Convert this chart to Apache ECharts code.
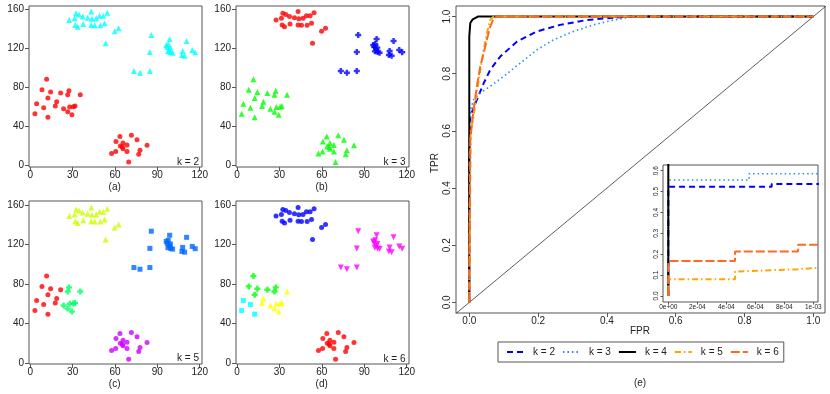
<!DOCTYPE html>
<html>
<head>
<meta charset="utf-8">
<script src="https://cdn.jsdelivr.net/npm/echarts@6/dist/echarts.min.js"></script>
<style>
  html, body { margin: 0; padding: 0; background: #fff; }
  #chart { width: 830px; height: 394px; }
</style>
</head>
<body>
<div id="chart"></div>
<script>
const FONT = 'Liberation Sans, Arial, Helvetica, sans-serif'

// k-means panels: the same points in every panel (left, bottom, top, right groups)
const ptX = [
  3.3, 4.5, 8.3, 9.5, 11.6, 12.5, 12.5, 14.4, 17.7, 18.7, 21.5, 23.6, 26.5, 26.5, 27.4, 27.9, 29.5, 30.5, 31.7, 35.4,
  57.6, 60.5, 60.7, 63.5, 63.8, 65.2, 65.7, 65.7, 68.5, 68.5, 69.7, 71.6, 75.6, 76.8, 77.7, 82.7,
  27.6, 31.4, 32.4, 34.5, 31.9, 33.6, 37.1, 37.5, 40.6, 43.2, 43.7, 43.2, 45.6, 46.7, 49.1, 49.6, 51.7, 52.7, 54.5, 59.8, 62.6, 53.4,
  85.7, 98.7, 97.7, 96.3, 97.0, 99.2, 98.4, 97.5, 99.4, 100.8, 84.7, 107.9, 107.4, 109.3, 110.7, 114.7, 116.8, 73.4, 77.7, 84.7
]
const ptY = [
  53.1, 63.3, 77.6, 59.2, 88.2, 69.1, 49.4, 75.2, 60.9, 65.3, 74.2, 58.2, 55.1, 72.5, 76.6, 59.9, 52.1, 60.3, 60.9, 72.5,
  12.6, 14.6, 24.8, 29.9, 20.1, 19.1, 23.1, 17.4, 21.1, 14.6, 3.7, 31.0, 26.6, 11.6, 15.7, 20.8,
  148.8, 150.5, 155.6, 154.5, 143.7, 141.9, 152.5, 144.7, 151.1, 157.6, 150.1, 143.7, 143.4, 150.5, 153.2, 143.4, 153.2, 145.4, 156.2, 137.2, 140.3, 125.0,
  133.5, 129.4, 124.3, 123.2, 121.2, 120.6, 118.8, 116.8, 116.1, 115.4, 116.1, 117.1, 113.0, 112.3, 127.3, 118.1, 115.8, 96.7, 95.0, 96.7
]
// cluster of each point for k = 2, 3, 5, 6
const lab2 = [
  1, 1, 1, 1, 1, 1, 1, 1, 1, 1, 1, 1, 1, 1, 1, 1, 1, 1, 1, 1,
  1, 1, 1, 1, 1, 1, 1, 1, 1, 1, 1, 1, 1, 1, 1, 1,
  2, 2, 2, 2, 2, 2, 2, 2, 2, 2, 2, 2, 2, 2, 2, 2, 2, 2, 2, 2, 2, 2,
  2, 2, 2, 2, 2, 2, 2, 2, 2, 2, 2, 2, 2, 2, 2, 2, 2, 2, 2, 2
]
const lab3 = [
  2, 2, 2, 2, 2, 2, 2, 2, 2, 2, 2, 2, 2, 2, 2, 2, 2, 2, 2, 2,
  2, 2, 2, 2, 2, 2, 2, 2, 2, 2, 2, 2, 2, 2, 2, 2,
  1, 1, 1, 1, 1, 1, 1, 1, 1, 1, 1, 1, 1, 1, 1, 1, 1, 1, 1, 1, 1, 1,
  3, 3, 3, 3, 3, 3, 3, 3, 3, 3, 3, 3, 3, 3, 3, 3, 3, 3, 3, 3
]
const lab5 = [
  1, 1, 1, 1, 1, 1, 1, 1, 1, 1, 1, 3, 3, 3, 3, 3, 3, 3, 3, 3,
  5, 5, 5, 5, 5, 5, 5, 5, 5, 5, 5, 5, 5, 5, 5, 5,
  2, 2, 2, 2, 2, 2, 2, 2, 2, 2, 2, 2, 2, 2, 2, 2, 2, 2, 2, 2, 2, 2,
  4, 4, 4, 4, 4, 4, 4, 4, 4, 4, 4, 4, 4, 4, 4, 4, 4, 4, 4, 4
]
const lab6 = [
  4, 4, 3, 4, 3, 3, 4, 3, 2, 2, 3, 2, 2, 3, 3, 2, 2, 2, 2, 2,
  1, 1, 1, 1, 1, 1, 1, 1, 1, 1, 1, 1, 1, 1, 1, 1,
  5, 5, 5, 5, 5, 5, 5, 5, 5, 5, 5, 5, 5, 5, 5, 5, 5, 5, 5, 5, 5, 5,
  6, 6, 6, 6, 6, 6, 6, 6, 6, 6, 6, 6, 6, 6, 6, 6, 6, 6, 6, 6
]
const scatterXTicks = [0, 30, 60, 90, 120]
const scatterYTicks = [0, 40, 80, 120, 160]

// ROC curves, [FPR, TPR]
const roc2 = [[0, 0], [0, 0.523], [0.000713, 0.523], [0.000713, 0.536], [0.0012, 0.536], [0.003, 0.651], [0.022, 0.709], [0.042, 0.767], [0.061, 0.814], [0.09, 0.86], [0.139, 0.913], [0.197, 0.948], [0.264, 0.971], [0.342, 0.988], [0.4, 0.994], [0.458, 1], [1, 1]]
const roc3 = [[0, 0], [0, 0.555], [0.000557, 0.555], [0.000557, 0.585], [0.0012, 0.585], [0.004, 0.674], [0.0125, 0.709], [0.032, 0.733], [0.061, 0.756], [0.1, 0.791], [0.148, 0.837], [0.197, 0.884], [0.245, 0.919], [0.303, 0.948], [0.361, 0.971], [0.419, 0.988], [0.468, 0.998], [0.52, 1], [1, 1]]
const roc4 = [[0, 0], [0, 0.93], [0.003, 0.978], [0.01, 0.99], [0.025, 1], [1, 1]]
const roc5 = [[0, 0], [0, 0.08], [0.00046, 0.08], [0.00046, 0.117], [0.00089, 0.128], [0.00089, 0.133], [0.0011, 0.138], [0.004, 0.6], [0.0125, 0.651], [0.022, 0.733], [0.032, 0.814], [0.042, 0.884], [0.051, 0.942], [0.061, 0.988], [0.07, 1], [1, 1]]
const roc6 = [[0, 0], [0, 0.167], [0.00046, 0.167], [0.00046, 0.213], [0.000895, 0.213], [0.000895, 0.245], [0.0011, 0.245], [0.003, 0.57], [0.0125, 0.675], [0.022, 0.756], [0.032, 0.826], [0.042, 0.872], [0.051, 0.919], [0.061, 0.965], [0.071, 0.994], [0.08, 1], [1, 1]]
const rocTicks = [0, 0.2, 0.4, 0.6, 0.8, 1]
const insetXTicks = [0, 0.0002, 0.0004, 0.0006, 0.0008, 0.001]
const insetYTicks = [0, 0.1, 0.2, 0.3, 0.4, 0.5, 0.6]

// rainbow(k) palettes
const pal2 = ['#FF0000', '#00FFFF']
const pal3 = ['#FF0000', '#00FF00', '#0000FF']
const pal5 = ['#FF0000', '#CCFF00', '#00FF66', '#0066FF', '#CC00FF']
const pal6 = ['#FF0000', '#FFFF00', '#00FF00', '#00FFFF', '#0000FF', '#FF00FF']

const plusPath = 'path://M3,0H7V3H10V7H7V10H3V7H0V3H3Z'
const symbols = ['circle', 'triangle', plusPath, 'rect', 'circle', 'triangle']
const symbolSizes = [5, 6, 6, 5, 5, 6]

const boxColor = '#555'
const labelColor = '#222'

function clusterSeries(gi, labels, pal) {
  return pal.map((col, c) => ({
    type: 'scatter',
    xAxisIndex: gi,
    yAxisIndex: gi,
    symbol: symbols[c],
    symbolSize: symbolSizes[c],
    symbolRotate: c === 5 ? 180 : 0,
    itemStyle: { color: col },
    silent: true,
    data: ptX.map((x, i) => [x, ptY[i], labels[i]]).filter(d => d[2] === c + 1).map(d => [d[0], d[1]])
  }))
}

function valueAxis(gi, min, max, ticks, opts) {
  return {
    gridIndex: gi,
    type: 'value',
    min: min,
    max: max,
    splitLine: { show: false },
    axisLine: { show: false, onZero: false },
    axisTick: { show: true, length: opts.tick, customValues: ticks, lineStyle: { color: boxColor } },
    axisLabel: {
      customValues: ticks,
      margin: opts.margin,
      rotate: opts.rotate || 0,
      fontSize: opts.size,
      color: labelColor,
      fontFamily: FONT,
      formatter: opts.fmt
    }
  }
}

const intFmt = v => String(Math.round(v))
const oneDec = v => v.toFixed(1)
const expFmt = v => v === 0 ? '0e+00' : v.toExponential(0).replace(/e-(\d)$/, 'e-0$1')

const scatterX = { tick: 4, margin: 3, size: 10, fmt: intFmt }
const scatterY = { tick: 4, margin: 5, size: 10, fmt: intFmt }

const grids = [
  { left: 29, top: 6, width: 173, height: 161 },
  { left: 236, top: 6, width: 173, height: 161 },
  { left: 29, top: 201, width: 173, height: 163 },
  { left: 236, top: 201, width: 173, height: 163 },
  { left: 456, top: 6, width: 369, height: 307 },
  { left: 663, top: 165, width: 155, height: 137, backgroundColor: '#fff' }
].map(g => Object.assign({ show: true, borderColor: boxColor, borderWidth: 1 }, g))

const xAxes = [
  valueAxis(0, -0.9, 121.6, scatterXTicks, scatterX),
  valueAxis(1, -0.7, 121.6, scatterXTicks, scatterX),
  valueAxis(2, -0.9, 121.6, scatterXTicks, scatterX),
  valueAxis(3, -0.7, 121.6, scatterXTicks, scatterX),
  valueAxis(4, -0.0386, 1.034, rocTicks, { tick: 4, margin: 3, size: 10, fmt: oneDec }),
  valueAxis(5, -0.0000366, 0.0010324, insetXTicks, { tick: 2.5, margin: 2, size: 6.5, fmt: expFmt })
]
const yAxes = [
  valueAxis(0, -1.3, 163.1, scatterYTicks, scatterY),
  valueAxis(1, -1.3, 163.1, scatterYTicks, scatterY),
  valueAxis(2, -1.0, 164.1, scatterYTicks, scatterY),
  valueAxis(3, -1.0, 164.1, scatterYTicks, scatterY),
  valueAxis(4, -0.037, 1.037, rocTicks, { tick: 4, margin: 4, size: 10, rotate: 90, fmt: oneDec }),
  valueAxis(5, -0.029, 0.627, insetYTicks, { tick: 2.5, margin: 3, size: 6.5, rotate: 90, fmt: oneDec })
]

const rocCurves = [
  { name: 'k = 2', data: roc2, color: '#0000FF', dash: [6, 4], width: 2 },
  { name: 'k = 3', data: roc3, color: '#1E90FF', dash: [1.5, 3], width: 1.6 },
  { name: 'k = 4', data: roc4, color: '#000000', dash: 'solid', width: 2 },
  { name: 'k = 5', data: roc5, color: '#FFA500', dash: [6, 3, 1.5, 3], width: 2 },
  { name: 'k = 6', data: roc6, color: '#FF6A20', dash: [9, 3], width: 2 }
]

function rocSeries(gi) {
  return rocCurves.map(c => ({
    type: 'line',
    name: c.name,
    xAxisIndex: gi,
    yAxisIndex: gi,
    showSymbol: false,
    symbol: 'none',
    clip: true,
    silent: true,
    itemStyle: { color: c.color },
    lineStyle: { color: c.color, type: c.dash, width: c.width },
    data: c.data
  }))
}

const series = [].concat(
  clusterSeries(0, lab2, pal2),
  clusterSeries(1, lab3, pal3),
  clusterSeries(2, lab5, pal5),
  clusterSeries(3, lab6, pal6),
  [{
    type: 'line', xAxisIndex: 4, yAxisIndex: 4, symbol: 'none', silent: true, clip: true,
    lineStyle: { color: '#333', width: 0.8 },
    data: [[-0.1, -0.1], [1.1, 1.1]]
  }],
  rocSeries(4),
  rocSeries(5)
)

function label(text, x, y, align, rot) {
  return {
    type: 'text', x: x, y: y, rotation: rot || 0,
    style: { text: text, fill: labelColor, font: '10px ' + FONT, align: align || 'center', verticalAlign: 'middle' }
  }
}

const chart = echarts.init(document.getElementById('chart'))
chart.setOption({
  animation: false,
  backgroundColor: '#fff',
  textStyle: { fontFamily: FONT },
  grid: grids,
  xAxis: xAxes,
  yAxis: yAxes,
  legend: {
    data: rocCurves.map(c => c.name),
    left: 498,
    top: 342,
    orient: 'horizontal',
    itemWidth: 17,
    itemHeight: 12,
    itemGap: 7,
    padding: [5, 5, 5, 8],
    borderColor: boxColor,
    borderWidth: 1,
    selectedMode: false,
    itemStyle: { opacity: 0 },
    textStyle: { fontSize: 10, color: labelColor, fontFamily: FONT, padding: [0, 0, 0, 4] }
  },
  graphic: [
    label('k = 2', 199, 162.5, 'right'),
    label('k = 3', 405.5, 162.5, 'right'),
    label('k = 5', 199, 358.5, 'right'),
    label('k = 6', 405.5, 359, 'right'),
    label('(a)', 114.7, 187.7),
    label('(b)', 321.7, 187.7),
    label('(c)', 114.7, 384.3),
    label('(d)', 321.7, 384.3),
    label('(e)', 640, 383),
    label('FPR', 640, 331.7),
    label('TPR', 435, 163, 'center', Math.PI / 2)
  ],
  series: series
})
</script>
</body>
</html>
